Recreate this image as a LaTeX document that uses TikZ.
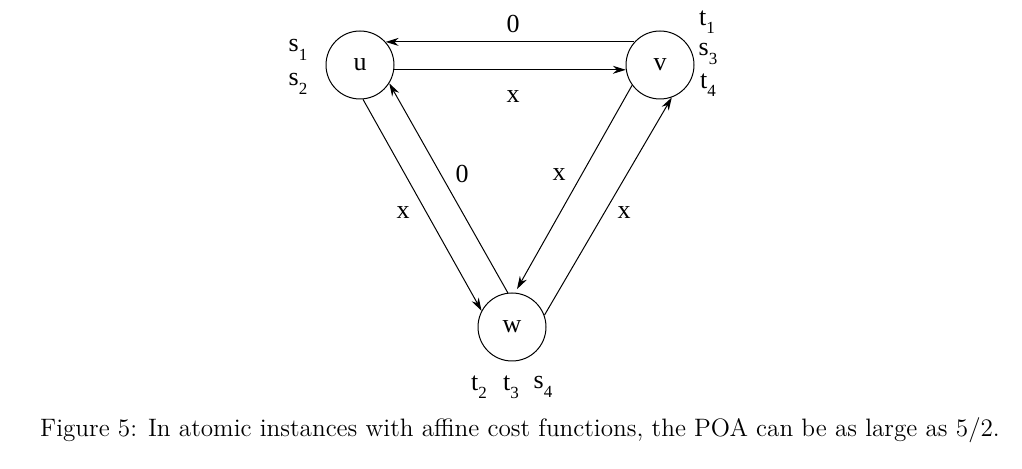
\documentclass[tikz,border=0pt]{standalone}
\usepackage{fontspec}
\newfontfamily\figfont{Liberation Serif}
\usetikzlibrary{arrows.meta}
\newcommand{\idx}[2]{#1\raisebox{-0.7ex}{\fontsize{8.5}{8.5}\selectfont #2}}
\tikzset{
 vertex/.style={draw, circle, minimum size=34pt, inner sep=0pt, line width=0.5pt, font=\figfont\fontsize{13}{13}\selectfont},
 arrow/.style={-{Stealth[length=6.5pt,width=4pt]}, line width=0.5pt},
 lbl/.style={inner sep=0pt, font=\figfont\fontsize{13}{13}\selectfont},
 captext/.style={inner sep=0pt, font=\fontsize{12.6}{14}\selectfont}
}
\begin{document}
\begin{tikzpicture}[x=0.5pt,y=-0.5pt]
\useasboundingbox (0,0) rectangle (1022,469);
% vertices
\node[vertex] (u) at (360,65) {u};
\node[vertex] (v) at (660,65) {v};
\node[vertex] (w) at (512,327) {w};
% sources and sinks
\node[lbl] (s1) at (298,50) {\idx{s}{1}};
\node[lbl] (s2) at (298,84) {\idx{s}{2}};
\node[lbl] (t1) at (707,22) {\idx{t}{1}};
\node[lbl] (s3) at (708,54) {\idx{s}{3}};
\node[lbl] (t4) at (708,85) {\idx{t}{4}};
\node[lbl] (t2) at (479,387) {\idx{t}{2}};
\node[lbl] (t3) at (511,387) {\idx{t}{3}};
\node[lbl] (s4) at (543,387) {\idx{s}{4}};
% edges
\draw[arrow] (v.138) -- (u.42);
\draw[arrow] (u.-8) -- (v.188);
\draw[arrow] (u.-85) -- (w.152);
\draw[arrow] (w.97) -- (u.-32);
\draw[arrow,shorten >=2pt] (v.-144) -- (w.85);
\draw[arrow] (w.20) -- (v.-70);
% costs
\node[lbl] (c1) at (513,24) {0};
\node[lbl] (c2) at (513,97) {x};
\node[lbl] (c3) at (462,174) {0};
\node[lbl] (c4) at (403,213) {x};
\node[lbl] (c5) at (559,175) {x};
\node[lbl] (c6) at (624,213) {x};
% caption
\node[captext] (fig) at (520,430) {Figure 5: In atomic instances with affine cost functions, the POA can be as large as 5/2.};
\end{tikzpicture}
\end{document}
